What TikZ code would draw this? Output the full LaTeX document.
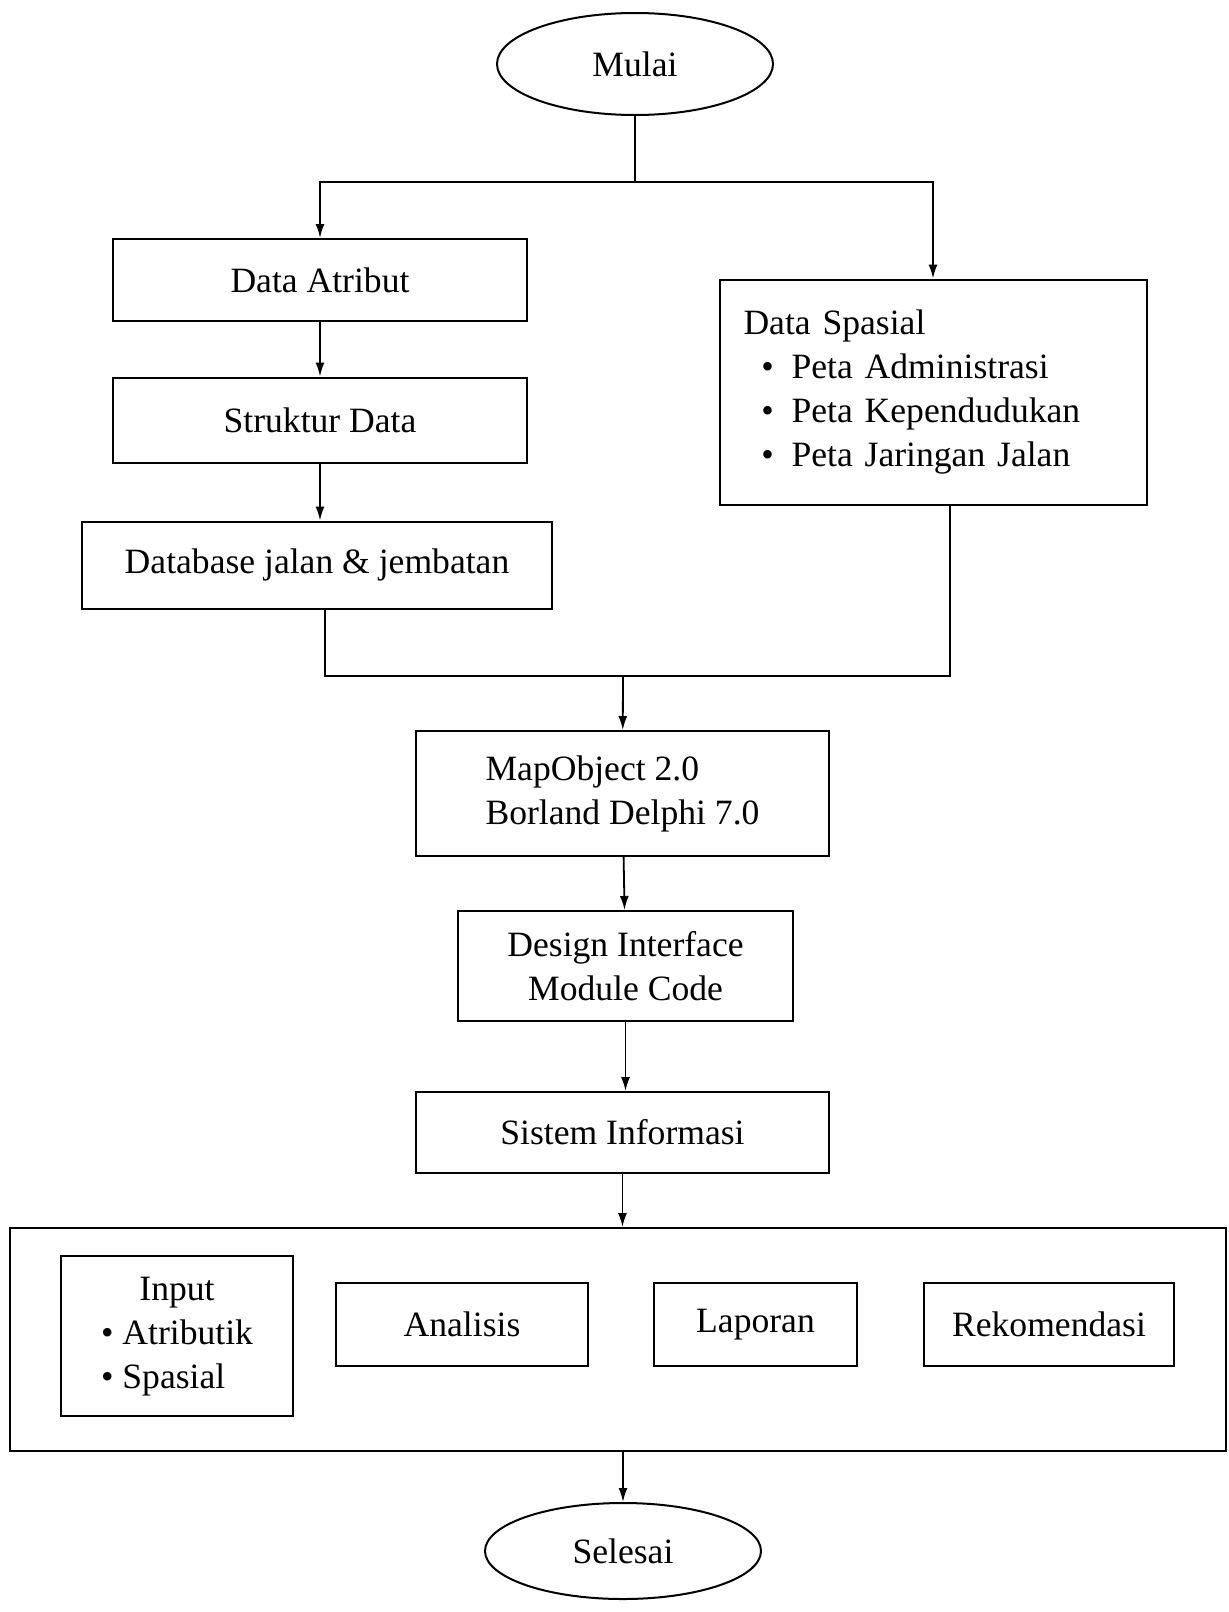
\documentclass[tikz,border=0pt]{standalone}
\usepackage{fontspec}
\setmainfont{Liberation Serif}
\usetikzlibrary{arrows.meta,shapes.geometric,positioning}

\begin{document}
\begin{tikzpicture}[x=0.5pt,y=-0.5pt,
        every node/.append style={font=\fontsize{17.8}{22}\selectfont},
        box/.style={draw, line width=1pt, rectangle, inner sep=0pt},
        term/.style={draw, line width=1pt, ellipse, minimum width=138pt, inner sep=0pt},
        arr/.style={-{Latex[length=7pt,width=4.5pt]}, line width=0.9pt},
        link/.style={line width=0.9pt}]
        \useasboundingbox (0,0) rectangle (1228,1612);
        \node[term, minimum height=51pt] (mulai) at (635,64) {Mulai};
        \node[box, minimum width=207pt, minimum height=41pt] (atribut) at (320,280) {Data Atribut};
        \node[box, minimum width=207pt, minimum height=42.5pt] (struktur) at (320,420) {Struktur Data};
        \node[box, minimum width=235pt, minimum height=43.5pt] (dbase) at (317,565) {Database jalan \& jembatan};
        \node[box, text width=189.5pt, inner xsep=12pt, minimum height=112.5pt, align=left] (spasial) at (933,392)
            {Data Spasial\\
             \hspace*{0.5em}\textbullet\hspace{0.5em}Peta Administrasi\\
             \hspace*{0.5em}\textbullet\hspace{0.5em}Peta Kependudukan\\
             \hspace*{0.5em}\textbullet\hspace{0.5em}Peta Jaringan Jalan\\[0.6ex]};
        \node[box, minimum width=206.5pt, minimum height=62.5pt, align=left] (mapobj) at (622.5,793.5) {MapObject 2.0\\ Borland Delphi 7.0};
        \node[box, minimum width=167.5pt, minimum height=55pt, align=center] (design) at (625.5,966) {Design Interface\\ Module Code};
        \node[box, minimum width=206.5pt, minimum height=40.5pt] (sistem) at (622.5,1132.5) {Sistem Informasi};
        \node[box, minimum width=608pt, minimum height=111.5pt] (sub) at (618,1339.5) {};
        \node[box, minimum width=116pt, minimum height=80pt] (input) at (177,1336)
            {\begin{tabular}{@{}l@{}}\multicolumn{1}{@{}c@{}}{Input}\\ \textbullet\ Atributik\\ \textbullet\ Spasial\end{tabular}};
        \node[box, minimum width=126pt, minimum height=41.5pt] (analisis) at (462,1324.5) {Analisis};
        \node[box, minimum width=101.5pt, minimum height=41.5pt] (laporan) at (755.5,1324.5) {Laporan};
        \node[box, minimum width=125pt, minimum height=41.5pt] (rekom) at (1049,1324.5) {Rekomendasi};
        \node[term, minimum height=48pt] (selesai) at (623,1551) {Selesai};
        \coordinate (fork) at (635,182);
        \coordinate (merge) at (623,676);
        \draw[link] (mulai) -- (fork);
        \draw[arr] (fork) -| (atribut);
        \draw[arr] (fork) -| (spasial);
        \draw[arr] (atribut) -- (struktur);
        \draw[arr] (struktur.south) -- (struktur.south |- dbase.north);
        \draw[link] ([xshift=4pt]dbase.south) |- (merge) -| ([xshift=8.5pt]spasial.south);
        \draw[arr] (merge) -- (mapobj);
        \draw[arr] (mapobj) -- (design);
        \draw[arr] (design.south) -- (design.south |- sistem.north);
        \draw[arr] (sistem) -- (sistem |- sub.north);
        \draw[arr] (sub.south -| selesai) -- (selesai);
    \end{tikzpicture}
\end{document}
